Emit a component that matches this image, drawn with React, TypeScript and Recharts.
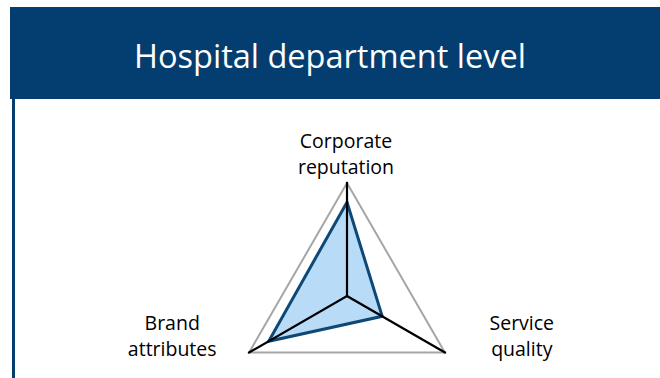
import React from "react";
import { RadarChart, PolarGrid, PolarAngleAxis, PolarRadiusAxis, Radar } from "recharts";

const title = "Hospital department level";
const categories = ["Corporate reputation", "Service quality", "Brand attributes"];
const labelLines = [["Corporate", "reputation"], ["Service", "quality"], ["Brand", "attributes"]];
const values = [4.15, 1.8, 4.0];
const domainMax = 5;

const data = categories.map((c, i) => ({ name: c, value: values[i], full: domainMax }));

const NAVY = "#043E70";
const FONT = "'Open Sans', 'DejaVu Sans', sans-serif";

const CX = 347;
const CY = 296;
const R = 113;

const Tick = (props: any) => {
  const { x, y, index } = props;
  const i = index ?? 0;
  const lines = labelLines[i] || [String(props.payload?.value)];
  let dx = 0;
  if (i === 0) dx = -1;
  else if (i === 1) dx = 70;
  else dx = -70;
  const baseY = y - 27;
  return (
    <text x={x + dx} y={baseY} textAnchor="middle" fill="#000" fontFamily={FONT} fontSize={19.5}>
      {lines.map((l, k) => (
        <tspan key={k} x={x + dx} y={baseY + k * 26}>
          {l}
        </tspan>
      ))}
    </text>
  );
};

const Spokes = (props: any) => {
  const pts = props.points || [];
  return (
    <g>
      {pts.map((p: any, k: number) => (
        <line key={k} x1={p.cx} y1={p.cy} x2={p.x} y2={p.y} stroke="#000" strokeWidth={2.2} strokeLinecap="square" />
      ))}
    </g>
  );
};

export default function App() {
  return (
    <div style={{ position: "absolute", left: 0, top: 0, width: 660, height: 378, background: "#fff", overflow: "hidden" }}>
      <div
        style={{
          position: "absolute",
          left: 10,
          top: 7,
          width: 650,
          height: 92,
          background: NAVY,
          color: "#fff",
          fontFamily: FONT,
          fontSize: 32.5,
          display: "flex",
          alignItems: "center",
          justifyContent: "center",
        }}
      >
        <span style={{ position: "relative", left: -5, top: 2 }}>{title}</span>
      </div>
      <div style={{ position: "absolute", left: 12, top: 99, width: 3, height: 279, background: NAVY }} />
      <div style={{ position: "absolute", left: 0, top: 0 }}>
        <RadarChart width={660} height={378} data={data} cx={CX} cy={CY} outerRadius={R} margin={{ top: 0, right: 0, bottom: 0, left: 0 }}>
          <PolarGrid gridType="polygon" radialLines={false} stroke="#A6A6A6" strokeWidth={2} />
          <PolarAngleAxis dataKey="name" axisLine={false} tickLine={false} tick={<Tick />} />
          <PolarRadiusAxis angle={90} domain={[0, domainMax]} tickCount={2} tick={false} axisLine={false} />
          <Radar
            dataKey="value"
            stroke="#0E4876"
            strokeWidth={3}
            fill="#B8DBF8"
            fillOpacity={1}
            isAnimationActive={false}
          />
          <Radar dataKey="full" shape={<Spokes />} isAnimationActive={false} />
        </RadarChart>
      </div>
    </div>
  );
}
